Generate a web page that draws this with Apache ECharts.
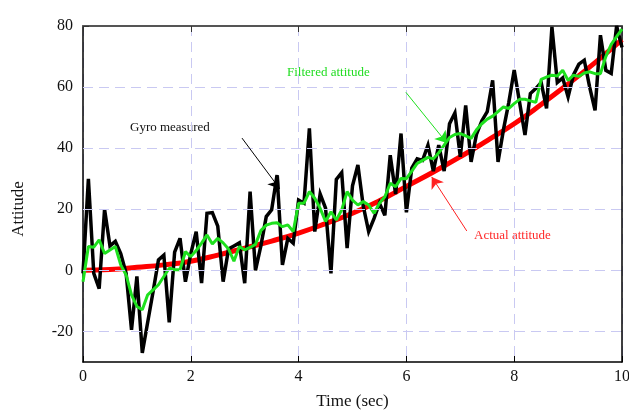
<!DOCTYPE html>
<html>
<head>
<meta charset="utf-8">
<script src="https://cdn.jsdelivr.net/npm/echarts@6/dist/echarts.min.js"></script>
<style>
html, body { margin: 0; padding: 0; background: #fff; }
#chart { width: 629px; height: 415px; }
</style>
</head>
<body>
<div id="chart"></div>
<script>
// sample times (sec) for the gyro and filter traces
const sampleTimes = [
  0, 0.1, 0.2, 0.3, 0.4, 0.5, 0.6, 0.7, 0.8, 0.9,
  1, 1.1, 1.2, 1.3, 1.4, 1.5, 1.6, 1.7, 1.8, 1.9,
  2, 2.1, 2.2, 2.3, 2.4, 2.5, 2.6, 2.7, 2.8, 2.9,
  3, 3.1, 3.2, 3.3, 3.4, 3.5, 3.6, 3.7, 3.8, 3.9,
  4, 4.1, 4.2, 4.3, 4.4, 4.5, 4.6, 4.7, 4.8, 4.9,
  5, 5.1, 5.2, 5.3, 5.4, 5.5, 5.6, 5.7, 5.8, 5.9,
  6, 6.1, 6.2, 6.3, 6.4, 6.5, 6.6, 6.7, 6.8, 6.9,
  7, 7.1, 7.2, 7.3, 7.4, 7.5, 7.6, 7.7, 7.8, 7.9,
  8, 8.1, 8.2, 8.3, 8.4, 8.5, 8.6, 8.7, 8.8, 8.9,
  9, 9.1, 9.2, 9.3, 9.4, 9.5, 9.6, 9.7, 9.8, 9.9, 10
];
const gyroMeasured = [
  -1, 30, -1, -6, 20, 8, 9.5, 5.5, -1, -19.5,
  -2, -27, -17, -7, 3.4, 5, -17, 6, 10.5, -3.7,
  5.5, 12.7, -4.2, 18.7, 18.9, 14.5, -3.7, 7, 8, 9,
  -4.2, 25.8, 0, 8, 17.6, 19.8, 31.2, 1.8, 10.5, 8.9,
  23, 22, 46.5, 12.7, 25, 20.4, -1, 29.8, 32, 7.3,
  27.7, 34.5, 21, 12.7, 17, 22, 18, 37.7, 25, 44.8,
  19, 33.5, 36.5, 36, 41, 32.5, 41, 32.5, 48, 51.5,
  37.2, 54, 35.5, 44.5, 49, 52, 62.2, 35.5, 46, 55,
  65.6, 55, 44.3, 57.9, 59.5, 61.5, 53, 79.7, 61.5, 63,
  56.8, 64, 67.5, 68.8, 60, 52.4, 77, 65.5, 64.5, 80, 73
];
const filteredAttitude = [
  -3.7, 7.8, 7.6, 10, 5.5, 6.7, 7.8, 1.8, -1.5, -8,
  -11.8, -12.9, -8, -6.4, -4.7, -2, 0.7, 0.2, 0.2, 6.1,
  4.5, 6.5, 8.9, 11.6, 8.6, 10.5, 9, 7, 3, 7.8,
  6.7, 7.5, 8.5, 13, 14.8, 15.4, 15.6, 14.3, 14.9, 12.7,
  22, 22, 25.8, 23.6, 20.3, 16, 19.2, 16.5, 19.8, 25.8,
  23, 21.4, 22.5, 21.4, 18.7, 22, 24.1, 28.5, 27.4, 30.1,
  30, 32.5, 35, 36, 37, 36.5, 38.5, 41, 43.5, 44.5,
  44.8, 44, 43.2, 46, 48, 49.5, 50.5, 52, 53.5, 53,
  54.6, 56, 56, 55.5, 55, 62.5, 63.3, 63.9, 63.6, 65.5,
  62.2, 63.9, 63.5, 64.6, 65, 64.4, 64.4, 70, 74, 76.5, 79
];
const actualTimes = [0, 0.5, 1, 1.5, 2, 2.5, 3, 3.5, 4, 4.5, 5, 5.5, 6, 6.5, 7, 7.5, 8, 8.5, 9, 9.5, 10];
const actualAttitude = [0, 0.3, 1, 1.8, 3, 5, 7.3, 9.6, 12.2, 15.3, 18.7, 22.8, 27.5, 32.2, 37.2, 42.5, 48, 54.3, 61, 68, 75.5];

const yTicks = [-20, 0, 20, 40, 60, 80];
const yGridLines = [-20, 0, 20, 40, 60];

// annotation arrows: [from, to] in data units
const gyroArrow = [[2.95, 43.3], [3.65, 26.7]];
const filterArrow = [[5.99, 58.3], [6.75, 41.7]];
const actualArrow = [[7.12, 12.9], [6.47, 30.6]];

const serif = '"Liberation Serif", "DejaVu Serif", serif';
const gridColor = '#c9c9f2';

const pairs = (xs, ys) => xs.map((x, i) => [x, ys[i]]);
const arrow = (pts, color) => [
  { coord: pts[0], lineStyle: { color: color, width: 1, type: 'solid' } },
  { coord: pts[1] }
];

const chart = echarts.init(document.getElementById('chart'), null, { renderer: 'canvas' });

chart.setOption({
  animation: false,
  backgroundColor: '#fff',
  grid: { left: 83, right: 7, top: 26, bottom: 53, outerBoundsMode: 'none' },
  xAxis: [{
    type: 'value', min: 0, max: 10, interval: 2, position: 'bottom',
    axisLine: { onZero: false, lineStyle: { color: '#000', width: 1.5 } },
    axisTick: { inside: true, length: 6, lineStyle: { color: '#000' } },
    axisLabel: { color: '#111', fontFamily: serif, fontSize: 16, margin: 7 },
    splitLine: { show: true, lineStyle: { color: gridColor, width: 1, type: [10, 6] } },
    name: 'Time (sec)', nameLocation: 'middle', nameGap: 31,
    nameTextStyle: { color: '#111', fontFamily: serif, fontSize: 17 }
  }, {
    type: 'value', min: 0, max: 10, interval: 2, position: 'top',
    axisLine: { onZero: false, lineStyle: { color: '#555', width: 2 } },
    axisTick: { inside: true, length: 6, lineStyle: { color: '#333' } },
    axisLabel: { show: false },
    splitLine: { show: false }
  }],
  yAxis: [{
    type: 'value', min: -30, max: 80, interval: 10, position: 'left',
    axisLine: { onZero: false, lineStyle: { color: '#000', width: 1.5 } },
    axisTick: { inside: true, length: 6, customValues: yTicks, lineStyle: { color: '#333' } },
    axisLabel: {
      color: '#111', fontFamily: serif, fontSize: 16, margin: 10,
      customValues: yTicks, verticalAlign: 'middle', padding: [0, 0, 10, 0],
      formatter: v => (v % 20 === 0 ? String(v) : '')
    },
    splitLine: { show: false }
  }, {
    type: 'value', min: -30, max: 80, interval: 10, position: 'right',
    axisLine: { onZero: false, lineStyle: { color: '#000', width: 1.5 } },
    axisTick: { inside: true, length: 7, customValues: yTicks, lineStyle: { color: '#333' } },
    axisLabel: { show: false },
    splitLine: { show: false }
  }],
  series: [{
    name: 'grid',
    type: 'line',
    data: [],
    z: 1,
    silent: true,
    markLine: {
      silent: true, symbol: ['none', 'none'], label: { show: false },
      lineStyle: { color: gridColor, width: 1, type: [10, 6] },
      data: yGridLines.map(v => ({ yAxis: v }))
    }
  }, {
    name: 'Actual attitude',
    type: 'line',
    data: pairs(actualTimes, actualAttitude),
    smooth: true,
    showSymbol: false,
    z: 2,
    lineStyle: { color: '#ff0000', width: 5 }
  }, {
    name: 'Gyro measured',
    type: 'line',
    data: pairs(sampleTimes, gyroMeasured),
    showSymbol: false,
    z: 3,
    lineStyle: { color: '#000', width: 3.5, join: 'miter', miterLimit: 4 }
  }, {
    name: 'Filtered attitude',
    type: 'line',
    data: pairs(sampleTimes, filteredAttitude),
    showSymbol: false,
    z: 4,
    lineStyle: { color: '#1ee01e', width: 3 },
    markLine: {
      silent: true, symbol: ['none', 'arrow'], symbolSize: 11,
      label: { show: false },
      data: [
        arrow(gyroArrow, '#000'),
        arrow(filterArrow, '#1ee01e'),
        arrow(actualArrow, '#ff2020')
      ]
    }
  }],
  graphic: [
    { type: 'text', x: 19, y: 209, rotation: Math.PI / 2,
      style: { text: 'Attitude', fill: '#111', font: '17px ' + serif, align: 'center', verticalAlign: 'middle' } },
    { type: 'text', x: 130, y: 128,
      style: { text: 'Gyro measured', fill: '#111', font: '13px ' + serif, align: 'left', verticalAlign: 'middle' } },
    { type: 'text', x: 287, y: 73,
      style: { text: 'Filtered attitude', fill: '#22dd22', font: '13px ' + serif, align: 'left', verticalAlign: 'middle' } },
    { type: 'text', x: 474, y: 236,
      style: { text: 'Actual attitude', fill: '#ff2a2a', font: '13px ' + serif, align: 'left', verticalAlign: 'middle' } }
  ]
});
</script>
</body>
</html>
